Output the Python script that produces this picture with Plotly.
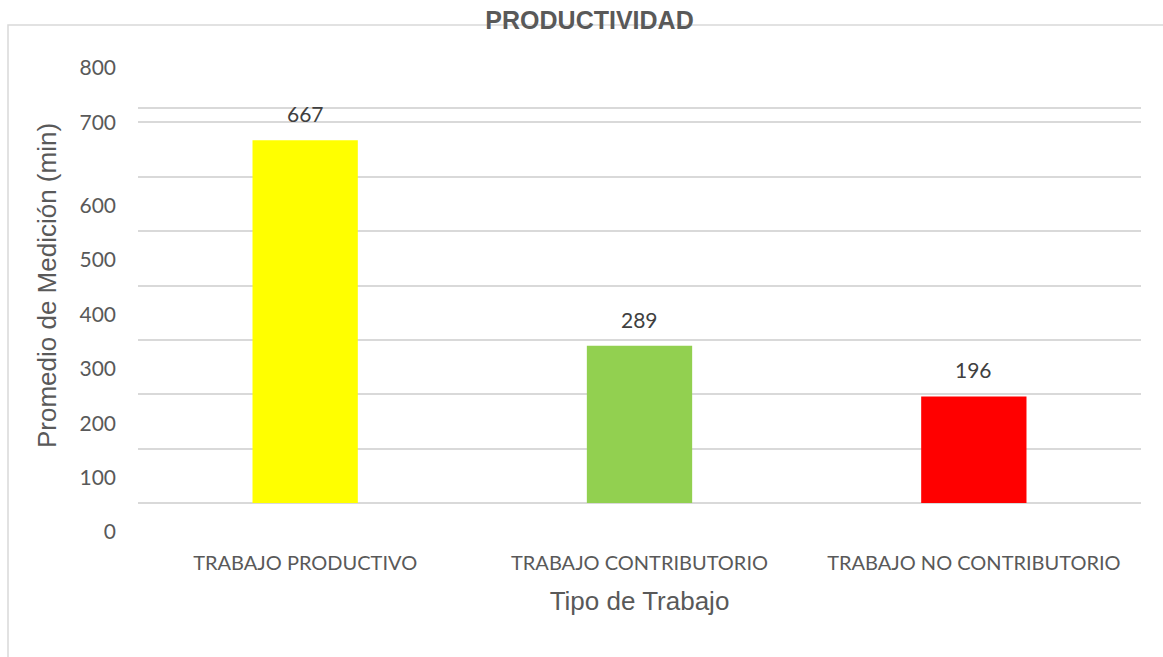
import plotly.graph_objects as go

# Chart data
categories = ["TRABAJO PRODUCTIVO", "TRABAJO CONTRIBUTORIO", "TRABAJO NO CONTRIBUTORIO"]
values = [667, 289, 196]
bar_colors = ["#FFFF00", "#92D050", "#FF0000"]

# Value-axis ticks: lower labels sit below their gridlines, upper ones on them
lower_tick_values = [0, 100, 200, 300, 400, 500, 600, 700]
lower_tick_labels = ["0", "100", "200", "300", "400", "500", "600", ""]
upper_tick_values = [700, 800]
upper_tick_labels = ["700", "800"]
extra_grid_values = [726]

LABEL_FONT = "Lato, Open Sans, sans-serif"
WIDE = "Liberation Sans, Arial, sans-serif"
GRAY = "#595959"
GRID = "#D9D9D9"

fig = go.Figure()
fig.add_trace(go.Bar(
    x=categories,
    y=values,
    marker=dict(color=bar_colors, line=dict(width=0)),
    hoverinfo="x+y",
    showlegend=False,
))

# Value labels above each bar
for cat, val in zip(categories, values):
    fig.add_annotation(
        x=cat, y=val, text=str(val), showarrow=False,
        yanchor="bottom", yshift=12,
        font=dict(family=LABEL_FONT, size=21, color="#404040"),
    )

fig.update_layout(
    width=1163, height=657,
    margin=dict(l=138, r=22, t=68, b=154),
    paper_bgcolor="white", plot_bgcolor="white",
    bargap=0.685,
    title=dict(
        text="<b>PRODUCTIVIDAD</b>",
        x=0.5069, xref="container", xanchor="center",
        y=1 - 20 / 657, yref="container", yanchor="middle",
        font=dict(family=WIDE, size=25, color=GRAY),
    ),
    xaxis=dict(
        showgrid=False, zeroline=False, showline=False, ticks="",
        tickangle=0, automargin=False,
        tickfont=dict(family=LABEL_FONT, size=20, color=GRAY),
        ticklabelstandoff=46,
        title=dict(text="Tipo de Trabajo", standoff=18,
                   font=dict(family=WIDE, size=26, color=GRAY)),
    ),
    yaxis=dict(
        range=[0, 800], autorange=False, automargin=False,
        tickmode="array", tickvals=lower_tick_values, ticktext=lower_tick_labels,
        ticklabelshift=29, ticklabelstandoff=21,
        showgrid=True, gridcolor=GRID, gridwidth=1.5,
        minor=dict(tickmode="array", tickvals=extra_grid_values,
                   showgrid=True, gridcolor=GRID, gridwidth=1.5),
        zeroline=True, zerolinecolor=GRID, zerolinewidth=1.5,
        showline=False, ticks="",
        tickfont=dict(family=LABEL_FONT, size=21, color=GRAY),
        title=dict(text="Promedio de Medición (min)", standoff=15,
                   font=dict(family=WIDE, size=26, color=GRAY)),
    ),
    yaxis2=dict(
        overlaying="y", side="left", range=[0, 800], autorange=False,
        automargin=False,
        tickmode="array", tickvals=upper_tick_values, ticktext=upper_tick_labels,
        ticklabelstandoff=21,
        showgrid=False, zeroline=False, showline=False, ticks="",
        tickfont=dict(family=LABEL_FONT, size=21, color=GRAY),
    ),
)

# Chart-area frame (its right and bottom sides lie beyond the page)
fig.add_shape(
    type="rect", xref="paper", yref="paper",
    x0=(8 - 138) / 1003, x1=1.2, y0=-0.6, y1=(503 - 25) / 435,
    line=dict(color=GRID, width=1.5), fillcolor="rgba(0,0,0,0)", layer="below",
)

# Keep the secondary axis visible with a hidden placeholder trace
fig.add_trace(go.Scatter(x=[categories[0]], y=[None], yaxis="y2",
                         showlegend=False, hoverinfo="skip"))

fig.write_html("out.html")
